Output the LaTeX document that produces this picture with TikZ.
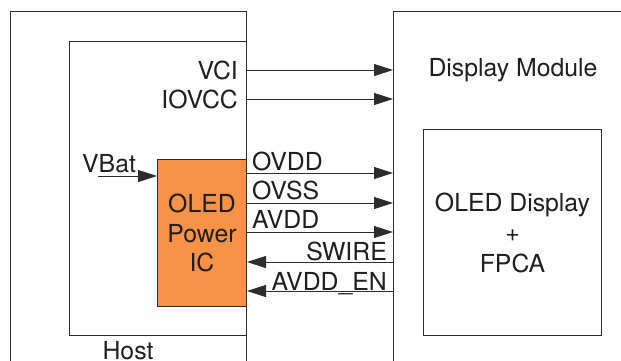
\documentclass[tikz,border=0pt]{standalone}
\usepackage{fontspec}
\setmainfont{TeX Gyre Heros}
\usetikzlibrary{arrows.meta,positioning}
\definecolor{icorange}{RGB}{247,146,70}
\definecolor{linegray}{RGB}{45,45,45}

\begin{document}
\begin{tikzpicture}[x=1pt,y=-1pt,
  box/.style={draw=linegray,line width=1pt,inner sep=0pt,anchor=north west},
  lbl/.style={font=\fontsize{24.8}{29.5}\selectfont,inner sep=1pt,text=black!88},
  sig/.style={draw=linegray,line width=1pt,-{Triangle[length=19pt,width=12pt]}}]
  \path[use as bounding box,clip] (0,0) rectangle (621,360);
  % host side
  \node[box,minimum width=236pt,minimum height=380pt] (host) at (10,11) {};
  \node[box,minimum width=177pt,minimum height=294pt] (hostin) at (69,41) {};
  \node[box,fill=icorange,minimum width=89pt,minimum height=147pt,
        lbl,align=center] (pic) at (157,159) {OLED\\Power\\IC};
  \node[lbl,anchor=base] (hostlbl) at (128,359) {Host};
  % display side
  \node[box,minimum width=250pt,minimum height=380pt] (dispmod) at (393,11) {};
  \node[lbl] (dmlbl) at (513,70) {Display Module};
  \node[box,minimum width=178pt,minimum height=206pt,
        lbl,align=center,font=\fontsize{24.8}{30.5}\selectfont] (oled) at (423,129)
        {OLED Display\\+\\FPCA};
  % supplies from host
  \node[lbl,anchor=east] (vci) at (239,70) {VCI};
  \node[lbl,anchor=east] (iovcc) at (239,99) {IOVCC};
  \draw[sig] (hostin.east |- vci) -- (dispmod.west |- vci);
  \draw[sig] (hostin.east |- iovcc) -- (dispmod.west |- iovcc);
  % battery input
  \node[lbl,anchor=base west] (vbat) at (81,172) {VBat};
  \coordinate (vbatin) at (98,176);
  \draw[sig] (vbatin) -- (pic.west |- vbatin);
  % power IC outputs
  \node[lbl,anchor=base west] (ovdd) at (251,170) {OVDD};
  \node[lbl,anchor=base west] (ovss) at (251,199) {OVSS};
  \node[lbl,anchor=base west] (avdd) at (251,228) {AVDD};
  \draw[sig] (pic.east |- 0,173) -- (dispmod.west |- 0,173);
  \draw[sig] (pic.east |- 0,203) -- (dispmod.west |- 0,203);
  \draw[sig] (pic.east |- 0,232) -- (dispmod.west |- 0,232);
  % control back to power IC
  \node[lbl,anchor=base east] (swire) at (388,260) {SWIRE};
  \node[lbl,anchor=base east] (avdden) at (388,290) {AVDD\_EN};
  \draw[sig] (dispmod.west |- 0,262) -- (pic.east |- 0,262);
  \draw[sig] (dispmod.west |- 0,291) -- (pic.east |- 0,291);
\end{tikzpicture}
\end{document}
